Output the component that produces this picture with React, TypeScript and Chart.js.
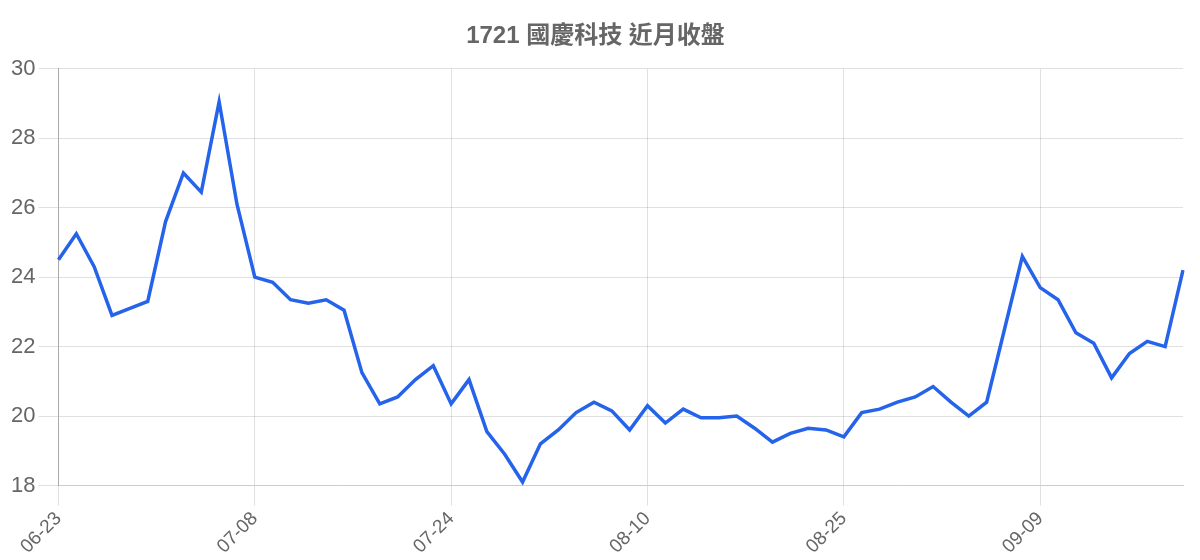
import { useEffect, useRef } from "react"
import { Chart, registerables } from "chart.js"

Chart.register(...registerables)

const TITLE = "1721 國慶科技 近月收盤"

const dates = [
  "06-23", "06-24", "06-25", "06-26", "06-27", "06-30", "07-01", "07-02", "07-03", "07-04", "07-07",
  "07-08", "07-09", "07-10", "07-11", "07-14", "07-15", "07-16", "07-17", "07-18", "07-21", "07-22",
  "07-24", "07-25", "07-28", "07-29", "07-30", "07-31", "08-01", "08-04", "08-05", "08-06", "08-07",
  "08-10", "08-11", "08-12", "08-13", "08-14", "08-15", "08-18", "08-19", "08-20", "08-21", "08-22",
  "08-25", "08-26", "08-27", "08-28", "08-29", "09-01", "09-02", "09-03", "09-04", "09-05", "09-08",
  "09-09", "09-10", "09-11", "09-12", "09-15", "09-16", "09-17", "09-18", "09-19",
]

const closes = [
  24.5, 25.25, 24.3, 22.9, 23.1, 23.3, 25.6, 27.0, 26.45, 29.05, 26.1,
  24.0, 23.85, 23.35, 23.25, 23.35, 23.05, 21.25, 20.35, 20.55, 21.05, 21.45,
  20.35, 21.05, 19.55, 18.9, 18.1, 19.2, 19.6, 20.1, 20.4, 20.15, 19.6,
  20.3, 19.8, 20.2, 19.95, 19.95, 20.0, 19.65, 19.25, 19.5, 19.65, 19.6,
  19.4, 20.1, 20.2, 20.4, 20.55, 20.85, 20.4, 20.0, 20.4, 22.5, 24.6,
  23.7, 23.35, 22.4, 22.1, 21.1, 21.8, 22.15, 22.0, 24.2,
]

const yMin = 18
const yMax = 30
const yStep = 2

export default function App() {
  const chartRef = useRef<HTMLCanvasElement>(null)
  const chartInstance = useRef<Chart | null>(null)

  useEffect(() => {
    document.body.style.margin = "0"
    if (!chartRef.current) return

    if (chartInstance.current) {
      chartInstance.current.destroy()
    }

    const ctx = chartRef.current.getContext("2d")
    if (!ctx) return

    Chart.defaults.font.family = "'Liberation Sans', Arial, 'Noto Sans CJK TC', sans-serif"
    Chart.defaults.color = "#666"

    chartInstance.current = new Chart(ctx, {
      type: "line",
      data: {
        labels: dates,
        datasets: [
          {
            label: "收盤",
            data: closes,
            borderColor: "#2563eb",
            backgroundColor: "#2563eb",
            borderWidth: 3.5,
            pointRadius: 0,
            tension: 0,
          },
        ],
      },
      options: {
        responsive: true,
        maintainAspectRatio: false,
        animation: false,
        layout: {
          padding: { top: 10, right: 17, left: 8, bottom: 0 },
        },
        plugins: {
          legend: { display: false },
          tooltip: { enabled: false },
          title: {
            display: true,
            text: TITLE,
            color: "#666",
            font: { size: 24, weight: "bold" },
            padding: { top: 12, bottom: 18 },
          },
        },
        scales: {
          x: {
            border: { color: "#ccc" },
            grid: {
              color: "rgba(0,0,0,0.12)",
              tickLength: 20,
            },
            ticks: {
              autoSkip: true,
              maxTicksLimit: 6,
              minRotation: 45,
              maxRotation: 45,
              padding: 2,
              color: "#666",
              font: { size: 19 },
            },
          },
          y: {
            min: yMin,
            max: yMax,
            border: { color: "#aaa" },
            grid: {
              color: "rgba(0,0,0,0.12)",
              tickLength: 20,
            },
            ticks: {
              stepSize: yStep,
              color: "#666",
              font: { size: 22 },
            },
          },
        },
      },
    })

    return () => {
      if (chartInstance.current) {
        chartInstance.current.destroy()
        chartInstance.current = null
      }
    }
  }, [])

  return (
    <div style={{ width: 1200, height: 560, position: "relative" }}>
      <canvas ref={chartRef} />
    </div>
  )
}
